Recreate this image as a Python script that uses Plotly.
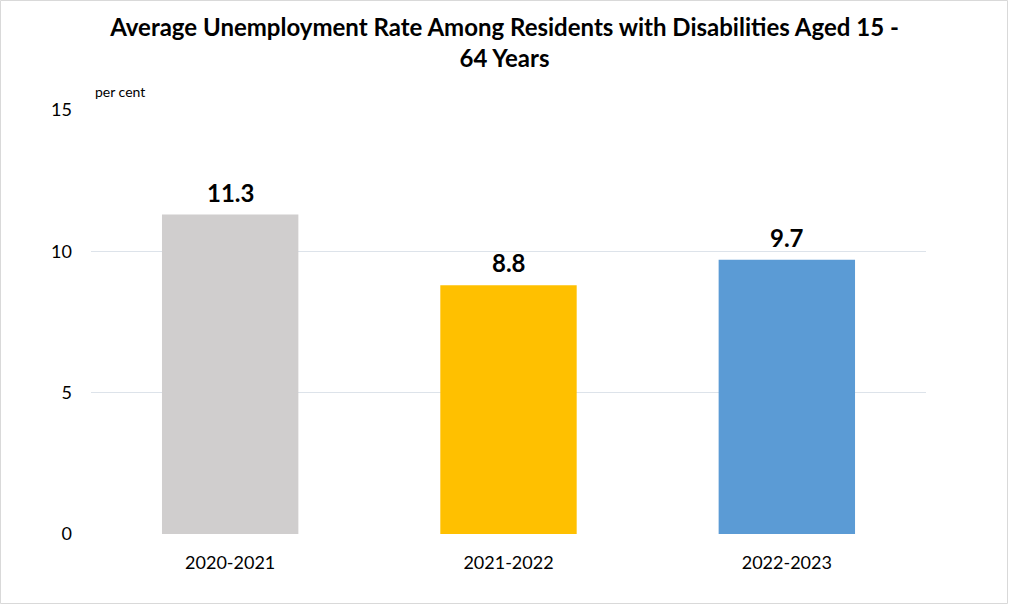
import plotly.graph_objects as go

categories = ["2020-2021", "2021-2022", "2022-2023"]
values = [11.3, 8.8, 9.7]
colors = ["#D0CECE", "#FFC000", "#5B9BD5"]
y_ticks = [0, 5, 10, 15]

W, H = 1009, 605
L, R, T, B = 91, 83, 110, 71
pw, ph = W - L - R, H - T - B
FONT = "Lato, Carlito, sans-serif"

fig = go.Figure(go.Bar(
    x=categories, y=values, marker_color=colors, marker_line_width=0,
    width=0.49, hoverinfo="x+y",
))

value_labels = [dict(x=c, y=v, xref="x", yref="y", text=f"<b>{v:.1f}</b>",
                     showarrow=False, xanchor="center", yanchor="bottom", yshift=6,
                     font=dict(family=FONT, size=24, color="#000000"))
                for c, v in zip(categories, values)]

fig.update_layout(
    width=W, height=H, margin=dict(l=L, r=R, t=T, b=B),
    paper_bgcolor="white", plot_bgcolor="white", showlegend=False,
    font=dict(family=FONT, color="#000000"),
    title=dict(text="<b>Average Unemployment Rate Among Residents with Disabilities Aged 15 -<br>64 Years</b>",
               x=0.5, xanchor="center", y=1 - 36 / H, yanchor="middle",
               font=dict(size=24, color="#000000")),
    xaxis=dict(showgrid=False, showline=False, ticks="", tickfont=dict(size=18),
               ticklabelstandoff=16),
    yaxis=dict(range=[0, 15], tickvals=y_ticks, showgrid=True, gridcolor="#DDE3EA",
               gridwidth=1, zeroline=False, showline=False, ticks="",
               tickfont=dict(size=18), ticklabelstandoff=18),
    annotations=value_labels + [dict(text="per cent", xref="paper", yref="paper", x=2 / pw, y=1 + 18 / ph,
                      xanchor="left", yanchor="middle", showarrow=False,
                      font=dict(size=14, color="#000000"))],
    shapes=[dict(type="rect", xref="paper", yref="paper",
                 x0=(0.5 - L) / pw, x1=(W - 1.5 - L) / pw,
                 y0=-(B - 1.5) / ph, y1=1 + (T - 0.5) / ph,
                 line=dict(color="#D9D9D9", width=1))],
)

fig.write_html("out.html", config={"displayModeBar": False},
               post_script="document.body.style.margin='0';document.body.style.overflow='hidden';")
